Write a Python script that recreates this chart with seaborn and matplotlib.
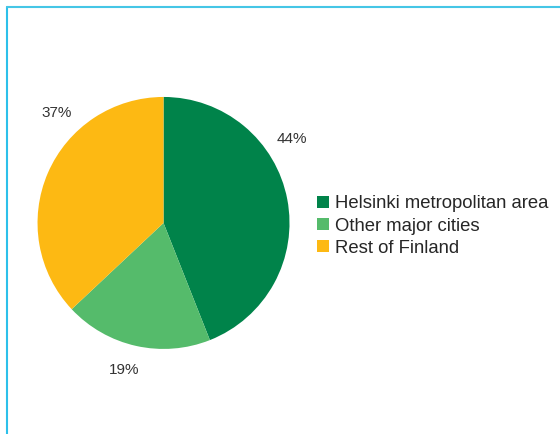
import matplotlib
matplotlib.use('Agg')
import matplotlib.pyplot as plt
import seaborn as sns
from matplotlib.lines import Line2D
from matplotlib.patches import Patch

# data
regions = ['Helsinki metropolitan area', 'Other major cities', 'Rest of Finland']
shares = [44, 19, 37]
colors = ['#00834a', '#55bb6b', '#fdb913']

# label offsets (pie radius units) for the percent labels
label_pos = [(1.02, 0.67), (-0.31, -1.17), (-0.85, 0.87)]

sns.set_theme(style='white')
plt.rcParams['font.family'] = ['Liberation Sans', 'DejaVu Sans']

fig = plt.figure(figsize=(5.6, 4.34), dpi=100)
ax = fig.add_axes([0.067, 0.196, 0.45, 0.5806])

wedges, _ = ax.pie(shares, colors=colors, startangle=90, counterclock=False,
                   radius=1, wedgeprops={'linewidth': 0})
ax.set_xlim(-1, 1)
ax.set_ylim(-1, 1)
ax.set_aspect('equal')
ax.axis('off')

for val, (x, y) in zip(shares, label_pos):
    ax.text(x, y, f'{val}%', ha='center', va='center', fontsize=11, color='#333333')

handles = [Patch(facecolor=c, edgecolor='none') for c in colors]
fig.legend(handles, regions, loc='center left', bbox_to_anchor=(0.566, 0.479),
           frameon=False, fontsize=13.3, handlelength=0.65, handleheight=0.65,
           handletextpad=0.35, labelspacing=0.28, borderpad=0, borderaxespad=0)

# light blue frame on top and left
fig.add_artist(Line2D([6.5 / 560, 6.5 / 560], [0, 1 - 6.5 / 434], color='#2cc0ea', linewidth=1.5))
fig.add_artist(Line2D([6.5 / 560, 1], [1 - 6.5 / 434, 1 - 6.5 / 434], color='#45c6e6', linewidth=1.5))

plt.savefig('out.png', dpi=100)
plt.close()
